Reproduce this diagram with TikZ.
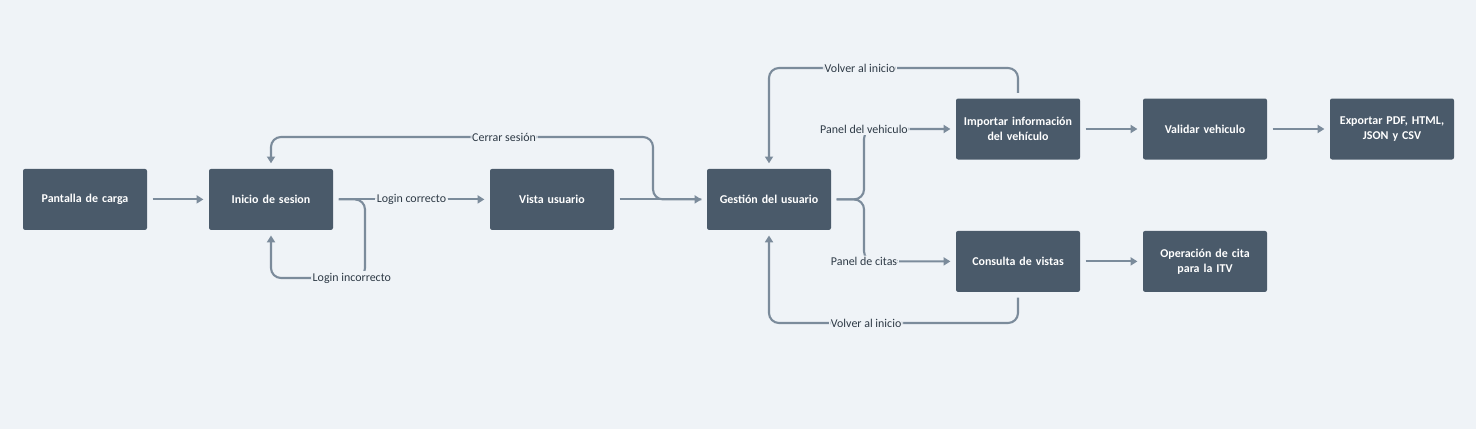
\documentclass[tikz,border=0pt]{standalone}
\usepackage{fontspec}
\setmainfont{Carlito}
\usetikzlibrary{arrows.meta,positioning,calc}
\definecolor{bg}{HTML}{EFF3F7}
\definecolor{slate}{HTML}{4A5A6A}
\definecolor{wire}{HTML}{7B8B9B}
\definecolor{ink}{HTML}{2E3A46}
\tikzset{
  box/.style={fill=slate,rounded corners=1.5pt,align=center,text=white,
    minimum width=3.1cm,minimum height=1.525cm,text width=2.8cm,
    outer sep=0.14cm,font=\bfseries\fontsize{8.5}{10.5}\selectfont},
  arr/.style={-{Triangle[length=1.7mm,width=2mm]},line width=1.5pt,wire,
    rounded corners=0.25cm},
  lbl/.style={fill=bg,text=ink,inner sep=1.2pt,font=\fontsize{8.5}{10}\selectfont}
}

\begin{document}
\begin{tikzpicture}[x=1cm,y=1cm]
  \fill[bg] (0,0) rectangle (36.9,10.725);
  \node[box] (carga) at (2.125,5.74) {Pantalla de carga};
  \node[box] (inicio) at (6.775,5.74) {Inicio de sesion};
  \node[box] (vista) at (13.8,5.74) {Vista usuario};
  \node[box] (gestion) at (19.225,5.74) {Gestión del usuario};
  \node[box] (importar) at (25.45,7.5) {Importar información\\del vehículo};
  \node[box] (validar) at (30.125,7.5) {Validar vehiculo};
  \node[box] (exportar) at (34.8,7.5) {Exportar PDF, HTML,\\JSON y CSV};
  \node[box] (consulta) at (25.45,4.19) {Consulta de vistas};
  \node[box] (cita) at (30.125,4.19) {Operación de cita\\para la ITV};

  \coordinate (koturn) at (9.125,3.775);
  \coordinate (cerrar) at (16.325,7.3);
  \coordinate (vtop) at (25.45,9.025);
  \coordinate (vbot) at (25.45,2.65);

  \draw[arr] (carga)--(inicio);
  \draw[arr] (inicio.east) -- node[lbl]{Login correcto} (vista.west);
  \draw[arr] (inicio.east) -| (koturn)
    -- node[lbl,pos=0.14]{Login incorrecto} (inicio.south |- koturn) -- (inicio.south);
  \draw[arr] (vista)--(gestion);
  \draw[arr] (gestion.west) -| (cerrar)
    -- node[lbl,pos=0.39]{Cerrar sesión} (inicio.north |- cerrar) -- (inicio.north);
  \draw[arr] (gestion.east) -- ++(0.685,0) |- node[lbl]{Panel del vehiculo} (importar.west);
  \draw[arr] (gestion.east) -- ++(0.685,0) |- node[lbl]{Panel de citas} (consulta.west);
  \draw[arr] (importar.north) -- (vtop)
    -- node[lbl,pos=0.635]{Volver al inicio} (gestion.north |- vtop) -- (gestion.north);
  \draw[arr] (consulta.south) -- (vbot)
    -- node[lbl,pos=0.61]{Volver al inicio} (gestion.south |- vbot) -- (gestion.south);
  \draw[arr] (importar)--(validar);
  \draw[arr] (validar)--(exportar);
  \draw[arr] (consulta)--(cita);
\end{tikzpicture}
\end{document}
